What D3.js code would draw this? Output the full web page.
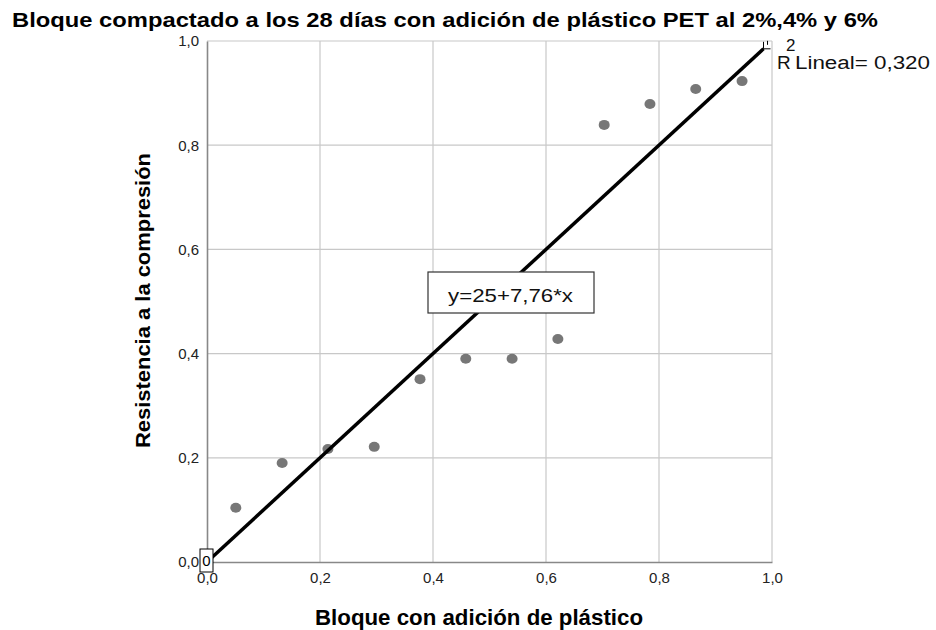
<!DOCTYPE html>
<html>
<head>
<meta charset="utf-8">
<script src="https://cdn.jsdelivr.net/npm/d3@7"></script>
<style>
  body { margin: 0; background: #fff; }
  text { font-family: "Liberation Sans", Arial, sans-serif; }
</style>
</head>
<body>
<div id="chart"></div>
<script>
// values
var xValues = [0.051, 0.133, 0.214, 0.296, 0.377, 0.458, 0.540, 0.621, 0.703, 0.784, 0.865, 0.947];
var yValues = [0.104, 0.190, 0.217, 0.221, 0.351, 0.390, 0.390, 0.428, 0.839, 0.879, 0.908, 0.923];
var fitX = [0, 0.985];
var fitY = [0, 0.985];
var tickValues = [0, 0.2, 0.4, 0.6, 0.8, 1.0];

var width = 936, height = 630;
var margin = { left: 207, top: 41, right: 164, bottom: 68 };
var w = width - margin.left - margin.right,
    h = height - margin.top - margin.bottom;

var fmt = function (d) { return d3.format(".1f")(d).replace(".", ","); };

var svg = d3.select("#chart").append("svg")
    .attr("width", width)
    .attr("height", height);

var x = d3.scaleLinear().domain([0, 1]).range([0, w]);
var y = d3.scaleLinear().domain([0, 1]).range([h, 0]);

var g = svg.append("g")
    .attr("transform", "translate(" + margin.left + "," + margin.top + ")");

// grid
g.selectAll(".vgrid").data(tickValues.slice(1))
    .enter().append("line")
    .attr("x1", d => x(d)).attr("x2", d => x(d))
    .attr("y1", 0).attr("y2", h)
    .style("stroke", "#c8c8c8").style("stroke-width", 1.2);
g.selectAll(".hgrid").data(tickValues.slice(1))
    .enter().append("line")
    .attr("x1", 0).attr("x2", w)
    .attr("y1", d => y(d)).attr("y2", d => y(d))
    .style("stroke", "#c8c8c8").style("stroke-width", 1.2);

// axes frame (left + bottom)
var xAxis = g.append("g")
    .attr("transform", "translate(0," + h + ")")
    .call(d3.axisBottom(x).tickValues(tickValues).tickFormat(fmt).tickSize(0).tickPadding(10));
var yAxis = g.append("g")
    .call(d3.axisLeft(y).tickValues(tickValues).tickFormat(fmt).tickSize(0).tickPadding(8));
[xAxis, yAxis].forEach(function (a) {
    a.select(".domain").style("stroke", "#888").style("stroke-width", 1.6);
    a.selectAll("text").style("font-size", "15px").style("fill", "#222")
        .style("font-family", "Liberation Sans, Arial, sans-serif");
});

// points
g.selectAll(".pt").data(xValues)
    .enter().append("ellipse")
    .attr("cx", (d, i) => x(d))
    .attr("cy", (d, i) => y(yValues[i]))
    .attr("rx", 5.5).attr("ry", 5)
    .style("fill", "#777");

// fit line
var line = d3.line().x(d => x(d[0])).y(d => y(d[1]));
g.append("path")
    .datum(fitX.map((d, i) => [d, fitY[i]]))
    .attr("d", line)
    .style("fill", "none").style("stroke", "#000").style("stroke-width", 3.5);

// small marker at line start
g.append("rect")
    .attr("x", x(0) - 7).attr("y", y(0) - 13)
    .attr("width", 13).attr("height", 23)
    .style("fill", "#fff").style("stroke", "#000").style("stroke-width", 1);
g.append("text")
    .attr("x", x(0) - 0.5).attr("y", y(0) + 4)
    .attr("text-anchor", "middle")
    .style("font-size", "15px")
    .text("0");

// small clipped marker at line end
var ex = x(fitX[1]), ey = y(fitY[1]);
g.append("path")
    .attr("d", "M" + (ex) + "," + (ey - 7) + "V" + (ey) + "H" + (ex + 7))
    .style("fill", "none").style("stroke", "#000").style("stroke-width", 1);
g.append("line")
    .attr("x1", ex + 4).attr("x2", ex + 4)
    .attr("y1", ey - 8).attr("y2", ey - 4)
    .style("stroke", "#000").style("stroke-width", 1);

// R2 label
svg.append("text")
    .attr("x", 777).attr("y", 69)
    .style("font-size", "19px").style("fill", "#111")
    .text("R");
svg.append("text")
    .attr("x", 786).attr("y", 51)
    .style("font-size", "17px").style("fill", "#111")
    .text("2");
svg.append("text")
    .attr("x", 795).attr("y", 69)
    .attr("textLength", 135).attr("lengthAdjust", "spacingAndGlyphs")
    .style("font-size", "18px").style("fill", "#111")
    .text("Lineal= 0,320");

// equation box
svg.append("rect")
    .attr("x", 428).attr("y", 272)
    .attr("width", 166).attr("height", 41)
    .style("fill", "#fff").style("stroke", "#333").style("stroke-width", 1.2);
svg.append("text")
    .attr("x", 448).attr("y", 302)
    .attr("textLength", 125).attr("lengthAdjust", "spacingAndGlyphs")
    .style("font-size", "18px").style("fill", "#111")
    .text("y=25+7,76*x");

// title + axis labels
svg.append("text")
    .attr("x", 12).attr("y", 27)
    .attr("textLength", 866).attr("lengthAdjust", "spacingAndGlyphs")
    .style("font-size", "21px").style("font-weight", "bold")
    .text("Bloque compactado a los 28 días con adición de plástico PET al 2%,4% y 6%");

svg.append("text")
    .attr("x", 315).attr("y", 625)
    .attr("textLength", 328).attr("lengthAdjust", "spacingAndGlyphs")
    .style("font-size", "22px").style("font-weight", "bold")
    .text("Bloque con adición de plástico");

svg.append("text")
    .attr("transform", "translate(150,448) rotate(-90)")
    .attr("textLength", 295).attr("lengthAdjust", "spacingAndGlyphs")
    .style("font-size", "21px").style("font-weight", "bold")
    .text("Resistencia a la compresión");
</script>
</body>
</html>
